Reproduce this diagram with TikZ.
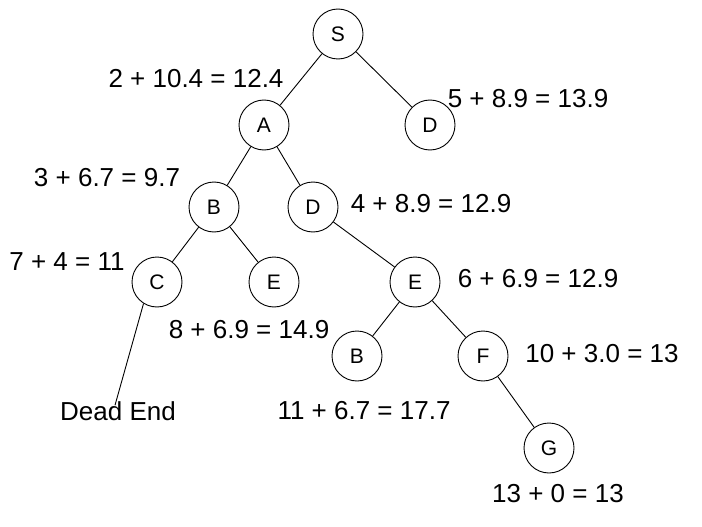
\documentclass[tikz,border=0pt]{standalone}
\usepackage{fontspec}
\setmainfont{Liberation Sans}
\begin{document}
\begin{tikzpicture}[x=1pt,y=-1pt,
  st/.style={circle,draw,line width=0.9pt,minimum size=50pt,inner sep=0pt,font=\fontsize{21}{21}\selectfont},
  lbl/.style={inner sep=0pt,font=\fontsize{26}{26}\selectfont},
  edge/.style={line width=0.9pt}]
\useasboundingbox (0,0) rectangle (702,527);
\node[st] (S) at (338,34) {S};
\node[st] (A) at (264,125) {A};
\node[st] (D1) at (430,125) {D};
\node[st] (B1) at (214,207) {B};
\node[st] (D2) at (313,207) {D};
\node[st] (C) at (157,282) {C};
\node[st] (E1) at (274,282) {E};
\node[st] (E2) at (415,282) {E};
\node[st] (B2) at (357,356) {B};
\node[st] (F) at (483,356) {F};
\node[st] (G) at (549,448) {G};
\node[lbl] (dead) at (118,411) {Dead End};
\node[lbl] (lA) at (196,79) {2 + 10.4 = 12.4};
\node[lbl] (lD1) at (528,99) {5 + 8.9 = 13.9};
\node[lbl] (lB1) at (107,178) {3 + 6.7 = 9.7};
\node[lbl] (lD2) at (431,204) {4 + 8.9 = 12.9};
\node[lbl] (lC) at (67,262) {7 + 4 = 11};
\node[lbl] (lE2) at (538,279) {6 + 6.9 = 12.9};
\node[lbl] (lE1) at (249,330) {8 + 6.9 = 14.9};
\node[lbl] (lF) at (602,354) {10 + 3.0 = 13};
\node[lbl] (lB2) at (364,411) {11 + 6.7 = 17.7};
\node[lbl] (lG) at (558,494) {13 + 0 = 13};
\draw[edge] (S) -- (A);
\draw[edge] (S) -- (D1);
\draw[edge] (A) -- (B1);
\draw[edge] (A) -- (D2);
\draw[edge] (B1) -- (C);
\draw[edge] (B1) -- (E1);
\draw[edge] (D2) -- (E2);
\draw[edge] (E2) -- (B2);
\draw[edge] (E2) -- (F);
\draw[edge] (F) -- (G);
\draw[edge] (C.238) -- ([xshift=-3pt,yshift=-4pt]dead.north);
\end{tikzpicture}
\end{document}
